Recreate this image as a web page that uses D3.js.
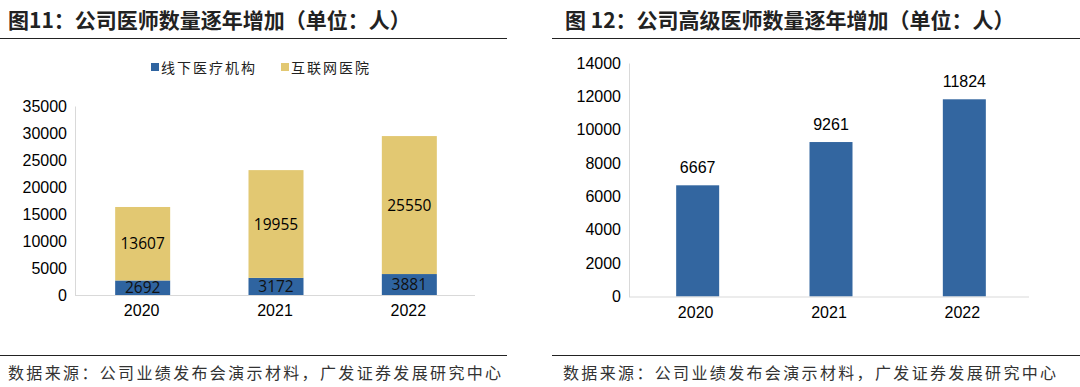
<!DOCTYPE html>
<html>
<head>
<meta charset="utf-8">
<script src="https://cdn.jsdelivr.net/npm/d3@7"></script>
<style>
  body { margin: 0; background: #fff; }
  svg { display: block; }
</style>
</head>
<body>
<div class="container"></div>
<script>
const years = ["2020", "2021", "2022"]
const offline = [2692, 3172, 3881]
const online = [13607, 19955, 25550]
const seriesNames = ["线下医疗机构", "互联网医院"]
const seniorDoctors = [6667, 9261, 11824]
const leftTicks = [0, 5000, 10000, 15000, 20000, 25000, 30000, 35000]
const rightTicks = [0, 2000, 4000, 6000, 8000, 10000, 12000, 14000]

const blue = "#2f64a0"
const yellow = "#e2c872"
const cjk = "'Noto Sans CJK SC', sans-serif"
const latin = "'Liberation Sans', Arial, sans-serif"

const svg = d3.select(".container")
              .append("svg")
              .attr("width", 1080)
              .attr("height", 387)

// titles and rules
const titles = [
  {x: 8, text: "图11：公司医师数量逐年增加（单位：人）", x0: 0, x1: 507, src: 8},
  {x: 565, text: "图 12：公司高级医师数量逐年增加（单位：人）", x0: 552, x1: 1080, src: 563}
]
titles.forEach(t => {
  svg.append("text")
     .attr("x", t.x).attr("y", 28)
     .style("font-family", cjk).style("font-weight", "bold")
     .style("font-size", "21px").attr("fill", "#222")
     .text(t.text)
  svg.append("line").attr("x1", t.x0).attr("x2", t.x1).attr("y1", 38.5).attr("y2", 38.5)
     .attr("stroke", "#222").attr("stroke-width", 1.2)
  svg.append("line").attr("x1", t.x0).attr("x2", t.x1).attr("y1", 355.5).attr("y2", 355.5)
     .attr("stroke", "#222").attr("stroke-width", 1.2)
  svg.append("text")
     .attr("x", t.src).attr("y", 379)
     .style("font-family", cjk).style("font-size", "16px").style("letter-spacing", "2.35px")
     .attr("fill", "#333")
     .text("数据来源：公司业绩发布会演示材料，广发证券发展研究中心")
})

// ---------- left: stacked bars ----------
const xL = d3.scaleBand().domain(years).range([75, 475]).paddingInner(0.5875).paddingOuter(0.29375)
const yL = d3.scaleLinear().domain([0, 35000]).range([295, 106])

const stackData = years.map((y, i) => ({year: y, offline: offline[i], online: online[i]}))
const stacked = d3.stack().keys(["offline", "online"])(stackData)
const colors = [blue, yellow]

svg.append("g")
   .attr("transform", "translate(75,0)")
   .call(d3.axisLeft(yL).tickValues(leftTicks).tickSize(0).tickPadding(8).tickFormat(d3.format("d")))
   .call(g => g.select(".domain").attr("stroke", "#d9d9d9"))
   .call(g => g.selectAll("text").style("font-family", latin).style("font-size", "16px").attr("fill", "#000"))

stacked.forEach((layer, li) => {
  const grp = svg.append("g")
  grp.selectAll("rect").data(layer).enter().append("rect")
     .attr("x", d => xL(d.data.year) + 1)
     .attr("width", xL.bandwidth())
     .attr("y", d => yL(d[1]))
     .attr("height", d => yL(d[0]) - yL(d[1]))
     .attr("fill", colors[li])
  grp.selectAll("text").data(layer).enter().append("text")
     .attr("x", d => xL(d.data.year) + 1 + xL.bandwidth() / 2)
     .attr("y", d => (yL(d[0]) + yL(d[1])) / 2)
     .attr("dy", "0.36em")
     .attr("text-anchor", "middle")
     .style("font-family", "'Open Sans', sans-serif").style("font-size", "15.5px")
     .attr("fill", li === 0 ? "#111" : "#000")
     .text(d => d[1] - d[0])
})

svg.append("g")
   .attr("transform", "translate(0,295)")
   .call(d3.axisBottom(xL).tickSize(0).tickPadding(10))
   .call(g => g.select(".domain").attr("stroke", "#d9d9d9").attr("d", "M75,0.5H475"))
   .call(g => g.selectAll("text").style("font-family", latin).style("font-size", "16px").attr("fill", "#000"))

// legend
const legend = svg.append("g").attr("transform", "translate(151,68)")
const legendX = [0, 130]
seriesNames.forEach((n, i) => {
  legend.append("rect").attr("x", legendX[i]).attr("y", -5).attr("width", 8).attr("height", 8).attr("fill", colors[i])
  legend.append("text").attr("x", legendX[i] + 10).attr("y", 0).attr("dy", "0.35em")
        .style("font-family", cjk).style("font-size", "14px").style("letter-spacing", "2px")
        .attr("fill", "#222").text(n)
})

// ---------- right: single bars ----------
const xR = d3.scaleBand().domain(years).range([629, 1029]).paddingInner(0.6775).paddingOuter(0.33875)
const yR = d3.scaleLinear().domain([0, 14000]).range([296.5, 63])

svg.append("g")
   .attr("transform", "translate(629,0)")
   .call(d3.axisLeft(yR).tickValues(rightTicks).tickSize(0).tickPadding(8).tickFormat(d3.format("d")))
   .call(g => g.select(".domain").attr("stroke", "#d9d9d9"))
   .call(g => g.selectAll("text").style("font-family", latin).style("font-size", "16px").attr("fill", "#000"))

svg.append("g").selectAll("rect").data(seniorDoctors).enter().append("rect")
   .attr("x", (d, i) => xR(years[i]) + 2)
   .attr("width", xR.bandwidth())
   .attr("y", d => yR(d))
   .attr("height", d => yR(0) - yR(d))
   .attr("fill", "#3366a0")

svg.append("g").selectAll("text").data(seniorDoctors).enter().append("text")
   .attr("x", (d, i) => xR(years[i]) + 2 + xR.bandwidth() / 2)
   .attr("y", d => yR(d) - 12)
   .attr("text-anchor", "middle")
   .style("font-family", latin).style("font-size", "16px").attr("fill", "#000")
   .text(d => d)

svg.append("g")
   .attr("transform", "translate(0,296.5)")
   .call(d3.axisBottom(xR).tickSize(0).tickPadding(10))
   .call(g => g.select(".domain").attr("stroke", "#d9d9d9").attr("d", "M629,0.5H1029"))
   .call(g => g.selectAll("text").style("font-family", latin).style("font-size", "16px").attr("fill", "#000"))
</script>
</body>
</html>
